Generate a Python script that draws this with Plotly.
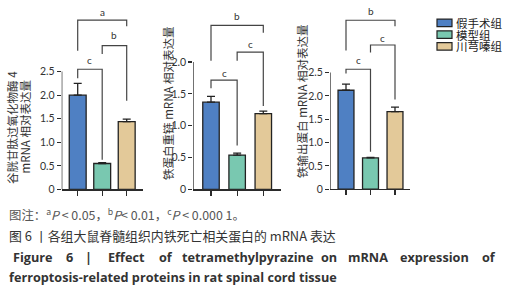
import plotly.graph_objects as go

W, H = 527, 300

groups = ["假手术组", "模型组", "川芎嗪组"]
colors = ["#4f80c3", "#79c8b0", "#e3c999"]

gpx4_vals = [2.0, 0.55, 1.44]
gpx4_err = [0.25, 0.02, 0.05]
fth_vals = [1.37, 0.54, 1.19]
fth_err = [0.09, 0.03, 0.04]
fpn_vals = [2.12, 0.67, 1.66]
fpn_err = [0.13, 0.01, 0.10]

ytick_vals_1 = [0, 0.5, 1.0, 1.5, 2.0, 2.5]
ytick_text_1 = ["0", "0.5", "1.0", "1.5", "2.0", "2.5"]
ytick_vals_2 = [0, 0.5, 1.0, 1.5, 2.0]
ytick_text_2 = ["0", "0.5", "1.0", "1.5", "2.0"]

sig_labels_1 = ["c", "b", "a"]
sig_labels_2 = ["c", "c", "b"]
sig_labels_3 = ["c", "c", "b"]

panels = [
    dict(vals=gpx4_vals, err=gpx4_err, ax=61.7, xend=143, y0=193.3, ppu=48.1, sp=24.5, c0=77.7,
         ticks=(ytick_vals_1, ytick_text_1), bw=0.69, labels=sig_labels_1,
         br=[(0, 1, 2.55, 2.36, 0.63, 2.74), (1, 2, 3.05, 2.875, 1.88, 3.27), (0, 2, 3.59, 2.94, 3.46, 3.77)]),
    dict(vals=fth_vals, err=fth_err, ax=193.3, xend=281, y0=193.3, ppu=65.0, sp=26.15, c0=211,
         ticks=(ytick_vals_2, ytick_text_2), bw=0.63, labels=sig_labels_2,
         br=[(0, 1, 1.717, 1.59, 0.69, 1.835), (1, 2, 2.154, 2.02, 1.31, 2.28), (0, 2, 2.574, 2.02, 2.46, 2.72)]),
    dict(vals=fpn_vals, err=fpn_err, ax=330, xend=410, y0=193, ppu=47.6, sp=24.5, c0=346,
         ticks=(ytick_vals_1, ytick_text_1), bw=0.65, labels=sig_labels_3,
         br=[(0, 1, 2.57, 2.48, 0.80, 2.76), (1, 2, 3.09, 2.93, 1.92, 3.25), (0, 2, 3.62, 2.97, 3.49, 3.81)]),
]

TOP = 3
fig = go.Figure()
shapes = []
annotations = []
LC = "#2b2b2b"
TICKFONT = dict(family="Lato, Noto Sans", size=10.5, color="#333")

for i, p in enumerate(panels):
    n = "" if i == 0 else str(i + 1)
    xa, ya = "x" + n, "y" + n
    xmin = (p["ax"] - p["c0"]) / p["sp"]
    xmax = 2 + (p["xend"] - (p["c0"] + 2 * p["sp"])) / p["sp"]
    ymax = (p["y0"] - TOP) / p["ppu"]
    fig.add_trace(go.Bar(
        x=[0, 1, 2], y=p["vals"], width=p["bw"],
        marker=dict(color=colors, line=dict(color="#222", width=1.3)),
        error_y=dict(type="data", array=p["err"], arrayminus=[0, 0, 0], color="#222",
                     thickness=1.3, width=4),
        xaxis=xa, yaxis=ya, showlegend=False, hoverinfo="skip"))
    fig.layout["xaxis" + n] = dict(domain=[p["ax"] / W, p["xend"] / W], range=[xmin, xmax],
                                   showline=True, linecolor=LC, linewidth=1.3, ticks="outside",
                                   tickvals=[0, 1, 2], ticklen=5, tickcolor=LC, tickwidth=1.2,
                                   showticklabels=False, showgrid=False, zeroline=False,
                                   fixedrange=True, anchor=ya)
    fig.layout["yaxis" + n] = dict(domain=[1 - p["y0"] / H, 1 - TOP / H], range=[0, ymax],
                                   showline=False, ticks="outside", tickvals=p["ticks"][0],
                                   ticktext=p["ticks"][1], ticklen=4, tickcolor=LC, tickwidth=1.2,
                                   tickfont=TICKFONT, showgrid=False, zeroline=False,
                                   fixedrange=True, anchor=xa)
    shapes.append(dict(type="line", xref=xa, yref=ya, x0=xmin, x1=xmin, y0=0,
                       y1=p["ticks"][0][-1], line=dict(color=LC, width=1.3)))
    for (xl, xr, yt, yle, yre, ly), lab in zip(p["br"], p["labels"]):
        shapes.append(dict(type="path", xref=xa, yref=ya,
                           path=f"M {xl},{yle} L {xl},{yt} L {xr},{yt} L {xr},{yre}",
                           line=dict(color="#444", width=1.2)))
        annotations.append(dict(xref=xa, yref=ya, x=(xl + xr) / 2, y=ly, text=lab,
                                xanchor="center", yanchor="middle",
                                showarrow=False, font=dict(family="Lato", size=10, color="#333")))

YT = dict(family="Noto Sans CJK SC", size=11.5, color="#333")
ytitles = [
    (12.5, 130, "谷胱甘肽过氧化物酶 4"),
    (25, 130, "mRNA 相对表达量"),
    (168, 106, "铁蛋白重链 mRNA 相对表达量"),
    (302, 104, "铁输出蛋白 mRNA 相对表达量"),
]
for x, y, t in ytitles:
    annotations.append(dict(xref="paper", yref="paper", x=x / W, y=1 - y / H, text=t,
                            xanchor="center", yanchor="middle",
                            textangle=-90, showarrow=False, font=YT))

leg_y = [23.3, 35.3, 47.3]
for g, c, yy in zip(groups, colors, leg_y):
    shapes.append(dict(type="rect", xref="paper", yref="paper", x0=437 / W, x1=452 / W,
                       y0=1 - (yy + 3.8) / H, y1=1 - (yy - 3.8) / H,
                       fillcolor=c, line=dict(color="#222", width=1.2)))
    annotations.append(dict(xref="paper", yref="paper", x=454 / W, y=1 - yy / H, text=g,
                            xanchor="left", yanchor="middle", showarrow=False,
                            font=dict(family="Noto Sans CJK SC", size=11.5, color="#222")))

CAP = dict(family="Open Sans", size=12.7, color="#333")
captions = [
    (7, 219, "left", "图注：<sup>a</sup><i>P</i> < 0.05，<sup>b</sup><i>P</i>< 0.01，<sup>c</sup><i>P</i> < 0.000 1。",
     dict(family="Noto Sans CJK SC", size=12.4, color="#555")),
    (7, 240, "left", "图 6 丨各组大鼠脊髓组织内铁死亡相关蛋白的 mRNA 表达",
     dict(family="Noto Sans CJK SC", size=12.9, color="#333")),
    (7, 283, "left", "<b>ferroptosis-related proteins in rat spinal cord tissue</b>", CAP),
]
# justified first English line: words placed at their centres
fig_words = ["Figure", "6", "|", "Effect", "of", "tetramethylpyrazine", "on", "mRNA", "expression", "of"]
word_cx = [33, 69.5, 88, 126, 166, 247, 328.5, 368, 434, 489]
for w, cx in zip(fig_words, word_cx):
    captions.append((cx, 262, "center", f"<b>{w}</b>", CAP))
for x, y, xan, t, f in captions:
    annotations.append(dict(xref="paper", yref="paper", x=x / W, y=1 - y / H, text=t,
                            xanchor=xan, yanchor="middle", showarrow=False, font=f))

fig.update_layout(width=W, height=H, margin=dict(l=0, r=0, t=0, b=0),
                  paper_bgcolor="white", plot_bgcolor="white", hovermode=False,
                  shapes=shapes, annotations=annotations, showlegend=False, bargap=0)
fig.write_html("out.html", config={"displayModeBar": False, "staticPlot": True},
               post_script="document.body.style.margin='0px';")
